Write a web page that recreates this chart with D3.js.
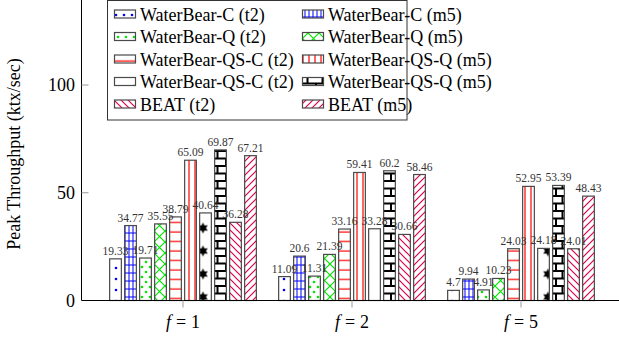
<!DOCTYPE html>
<html><head><meta charset="utf-8">
<script src="https://cdn.jsdelivr.net/npm/d3@7"></script>
<style>body{margin:0;background:#fff}svg{display:block}text{font-family:"Liberation Serif","Times New Roman",serif}</style>
</head><body>
<script>
const groups = ["1", "2", "5"];
const seriesNames = ["WaterBear-C (t2)", "WaterBear-C (m5)", "WaterBear-Q (t2)", "WaterBear-Q (m5)",
  "WaterBear-QS-C (t2)", "WaterBear-QS-Q (m5)", "WaterBear-QS-C (t2)", "WaterBear-QS-Q (m5)", "BEAT (t2)", "BEAT (m5)"];
const seriesIds = ["wcT2", "wcM5", "wqT2", "wqM5", "qscT2", "qsqM5a", "qsqT2", "qsqM5", "beatT2", "beatM5"];
const values = [
  [19.33, 34.77, 19.71, 35.55, 38.79, 65.09, 40.64, 69.87, 36.28, 67.21],
  [11.09, 20.6, 11.31, 21.39, 33.16, 59.41, 33.28, 60.2, 30.66, 58.46],
  [4.7, 9.94, 4.91, 10.23, 24.03, 52.95, 24.18, 53.39, 24.01, 48.43]
];
const yTicks = [0, 50, 100];

const W = 619, H = 343;
const FONT = "Liberation Serif, Times New Roman, serif";
const svg = d3.select("body").append("svg").attr("width", W).attr("height", H);
const defs = svg.append("defs");

const BLUE = "#0000ff", GREEN = "#00e600", RED = "#ff0000", CRIM = "#e0004a";
function pat(id, w, h, ox, oy) {
  return defs.append("pattern").attr("id", id).attr("patternUnits", "userSpaceOnUse")
    .attr("width", w).attr("height", h).attr("x", ox || 0).attr("y", oy || 0);
}
let p = pat("wcT2", 8, 11, 2, 2);
p.append("circle").attr("cx", 2).attr("cy", 2).attr("r", 1.3).attr("fill", BLUE);
p = pat("wcM5", 4, 8, 0.5, 0.5);
p.append("path").attr("d", "M0.5,0V8M0,0.5H4").attr("stroke", BLUE).attr("stroke-width", 1).attr("fill", "none");
p = pat("wqT2", 8, 10, 0, 0);
p.append("circle").attr("cx", 2).attr("cy", 2).attr("r", 1.3).attr("fill", GREEN);
p.append("circle").attr("cx", 6).attr("cy", 7).attr("r", 1.3).attr("fill", GREEN);
p = pat("wqM5", 11, 11, 0, 0);
p.append("path").attr("d", "M-1,-1L12,12M-1,12L12,-1").attr("stroke", GREEN).attr("stroke-width", 1.2).attr("fill", "none");
p = pat("qscT2", 10, 9.5, 0, 0);
p.append("path").attr("d", "M0,4H10").attr("stroke", RED).attr("stroke-width", 1.2);
p = pat("qsqM5a", 6, 10, 0, 0);
p.append("path").attr("d", "M3,0V10").attr("stroke", RED).attr("stroke-width", 1.2);
function starPath(cx, cy, R, r, n) {
  const pts = [];
  for (let i = 0; i < 2 * n; i++) {
    const a = -Math.PI / 2 + i * Math.PI / n, rr = i % 2 ? r : R;
    pts.push([cx + rr * Math.cos(a), cy + rr * Math.sin(a)]);
  }
  return "M" + pts.map(d => d.join(",")).join("L") + "Z";
}
p = pat("qsqT2", 23, 23, 203 - 11.5, 9.5);
p.append("path").attr("d", starPath(11.5, 11.5, 5.5, 3, 6)).attr("fill", "#000");
p = pat("qsqM5", 15, 15, 0, 0);
p.append("path").attr("d", "M0,1H15M0,8.5H15M7.5,1V8.5M1,8.5V15").attr("stroke", "#000").attr("stroke-width", 2).attr("fill", "none");
p = pat("beatT2", 7, 7, 0, 0);
p.append("path").attr("d", "M-1,-1L8,8M-8,-1L1,8M6,-1L15,8").attr("stroke", CRIM).attr("stroke-width", 1.2);
p = pat("beatM5", 7, 7, 0, 0);
p.append("path").attr("d", "M-1,8L8,-1M-8,8L1,-1M6,8L15,-1").attr("stroke", CRIM).attr("stroke-width", 1.2);

const axisX = 81.5;
const y = d3.scaleLinear().domain([0, 100]).range([300.5, 85]);
const x = d3.scaleBand().domain(groups).range([98.5, 98.5 + 3 * 169]).padding(0);
const xi = d3.scaleBand().domain(seriesIds).range([-73.35, 73.35]).paddingInner(0.22);

const g = svg.append("g");
groups.forEach((grp, gi) => {
  const cx = x(grp) + x.bandwidth() / 2;
  seriesIds.forEach((sid, si) => {
    const v = values[gi][si];
    g.append("rect").attr("x", cx + xi(sid)).attr("y", y(v)).attr("width", xi.bandwidth())
      .attr("height", y(0) - y(v)).attr("fill", "#fff").attr("stroke", "none");
    g.append("rect").attr("x", cx + xi(sid)).attr("y", y(v)).attr("width", xi.bandwidth())
      .attr("height", y(0) - y(v)).attr("fill", `url(#${sid})`).attr("stroke", "#4a4a4a").attr("stroke-width", 1.2);
  });
});
groups.forEach((grp, gi) => {
  const cx = x(grp) + x.bandwidth() / 2;
  seriesIds.forEach((sid, si) => {
    const v = values[gi][si];
    svg.append("text").attr("x", cx + xi(sid) + xi.bandwidth() / 2).attr("y", y(v) - 4)
      .attr("font-family", FONT).attr("text-anchor", "middle").attr("font-size", 11.5).attr("fill", "#333").text(String(v));
  });
});

svg.append("line").attr("x1", axisX).attr("x2", axisX).attr("y1", 0).attr("y2", y(0)).attr("stroke", "#000");
svg.append("line").attr("x1", axisX).attr("x2", W).attr("y1", y(0)).attr("y2", y(0)).attr("stroke", "#000");
yTicks.forEach(t => {
  if (t > 0) svg.append("line").attr("x1", axisX).attr("x2", axisX + 7).attr("y1", y(t)).attr("y2", y(t)).attr("stroke", "#999");
  svg.append("text").attr("x", 75).attr("y", y(t) + 6).attr("text-anchor", "end").attr("font-family", FONT).attr("font-size", 18).text(t);
});
groups.forEach(grp => {
  const cx = x(grp) + x.bandwidth() / 2;
  svg.append("line").attr("x1", cx).attr("x2", cx).attr("y1", y(0)).attr("y2", y(0) + 7).attr("stroke", "#999");
  const t = svg.append("text").attr("x", cx).attr("y", 328).attr("text-anchor", "middle").attr("font-family", FONT).attr("font-size", 18);
  t.append("tspan").attr("font-style", "italic").text("f");
  t.append("tspan").attr("dx", 5).text("=");
  t.append("tspan").attr("dx", 5).text(grp);
});
svg.append("text").attr("transform", "translate(20,154) rotate(-90)").attr("text-anchor", "middle")
  .attr("font-family", FONT).attr("font-size", 18).text("Peak Throughput (ktx/sec)");

const lg = svg.append("g");
lg.append("rect").attr("x", 107.5).attr("y", 0.5).attr("width", 299.5).attr("height", 119.5)
  .attr("fill", "#fff").attr("stroke", "#333").attr("stroke-width", 1);
seriesIds.forEach((sid, i) => {
  const col = i % 2, row = Math.floor(i / 2);
  const sx = col ? 302.5 : 114.5, cy = 14 + row * 22.5;
  lg.append("rect").attr("x", sx).attr("y", cy - 4).attr("width", 21).attr("height", 8)
    .attr("fill", `url(#${sid})`).attr("stroke", "#4a4a4a").attr("stroke-width", 1.2);
  lg.append("text").attr("x", sx + 25.5).attr("y", cy + 6.5).attr("font-family", FONT).attr("font-size", 18).text(seriesNames[i]);
});
</script>
</body></html>
